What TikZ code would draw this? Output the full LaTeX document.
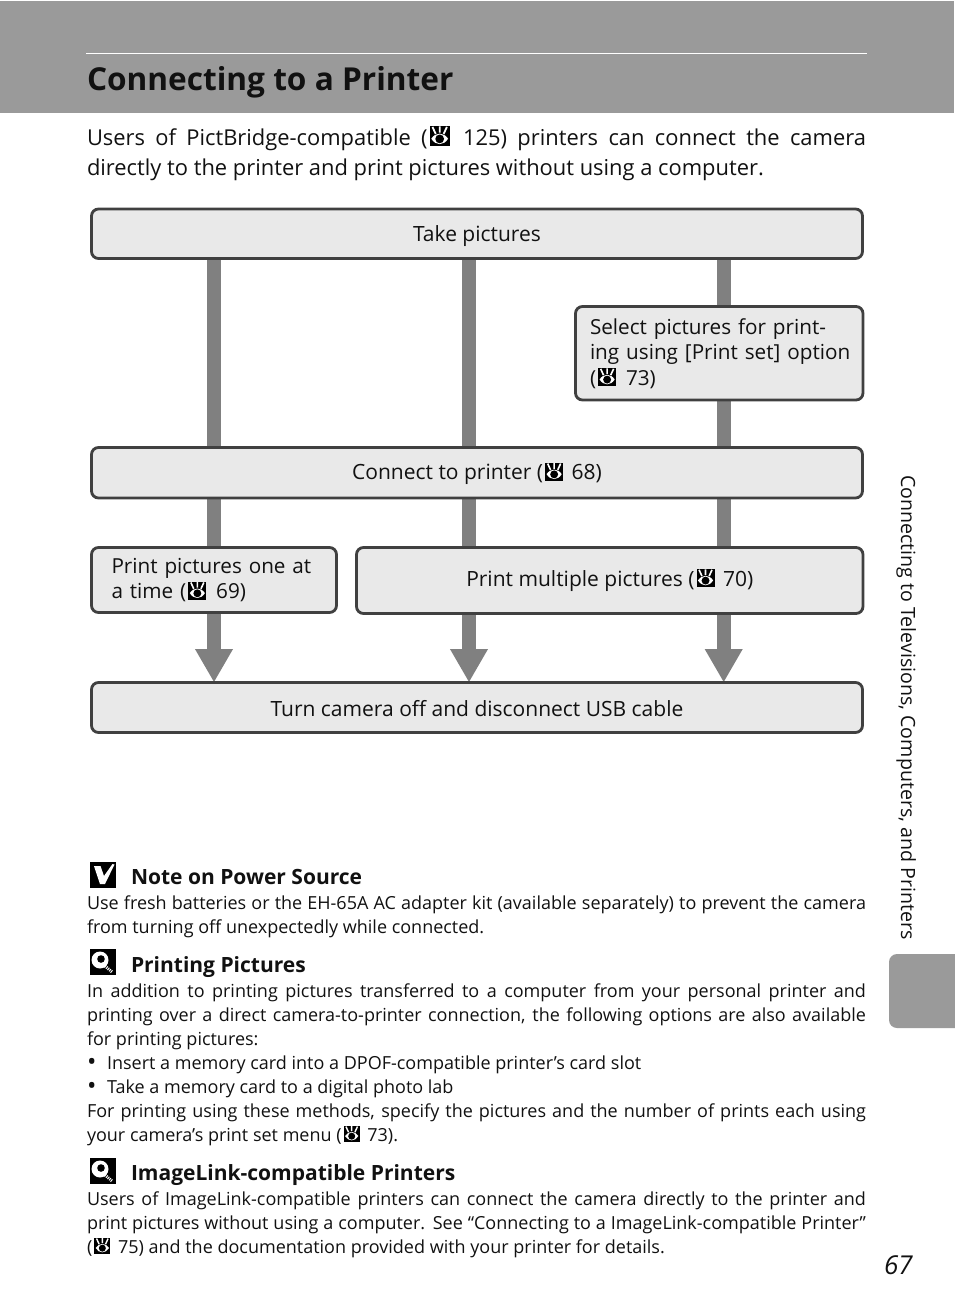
\documentclass[tikz,border=0pt]{standalone}
\usepackage{fontspec}
\usepackage{graphicx}
\setmainfont{Open Sans}
\usetikzlibrary{arrows.meta,backgrounds}
\definecolor{headgray}{HTML}{9A9A9A}
\definecolor{bargray}{HTML}{808080}
\definecolor{boxfill}{HTML}{E9E9E9}
\definecolor{boxline}{HTML}{404040}
\definecolor{txt}{HTML}{111111}
\newcommand{\eye}[1]{\kern2pt\raisebox{-0.06em}{\tikz[x=#1pt,y=#1pt,line cap=butt,baseline=0pt,sharp corners]{%
  \fill[black] (0,0) rectangle (1,1);
  \fill[white] (0.08,0.38) .. controls (0.3,0.72) and (0.7,0.72) .. (0.92,0.38) .. controls (0.7,0.02) and (0.3,0.02) .. (0.08,0.38) -- cycle;
  \fill[black] (0.5,0.37) circle [radius=0.22];
  \draw[white,line width=0.09*#1 pt] (0.14,0.97) -- (0.3,0.62) (0.5,1) -- (0.5,0.68) (0.86,0.97) -- (0.7,0.62);
}}\kern3pt\relax}
\newcommand{\tl}[5][]{\node[anchor=base west,inner sep=0pt,outer sep=0pt,text=txt,#1] (#2) at (#3,#4) {#5};}
\newcommand{\jl}[5][18]{\node[anchor=base west,inner sep=0pt,outer sep=0pt,text=txt] (#2) at (#3,#4) {\fontsize{#1}{#1}\selectfont\hbox to 779pt{\spaceskip=0.24em plus 1fil minus 0.08em\relax #5}};}
\newcommand{\body}{\fontsize{18}{24}\selectfont}
\newcommand{\head}{\fontsize{21}{24}\selectfont\bfseries}
\newcommand{\bul}{\fontsize{25}{24}\selectfont\raisebox{-0.06em}{•}}
\tikzset{
  flowbox/.style={draw=boxline,fill=boxfill,line width=2.8pt,rounded corners=7pt,inner sep=0pt,outer sep=0pt,font=\fontsize{21}{25}\selectfont,text=txt},
  single/.style={text height=#1,text depth=1.5pt},
  leftbox/.style={font=\fontsize{20.7}{25.5}\selectfont,align=left},
  bar/.style={draw=bargray,line width=13.6pt},
  arrowbar/.style={bar,-{Triangle[width=35.5pt,length=33.5pt]}}
}
\begin{document}
\begin{tikzpicture}[x=1pt,y=-1pt]
\useasboundingbox (0,0) rectangle (954,1314);
\fill[headgray] (0,1) rectangle (954,113);
\coordinate (ruleL) at (86,53.5);
\coordinate (ruleR) at (867,53.5);
\draw[white,line width=1pt] (ruleL) -- (ruleR);
\tl{title}{87}{90}{\fontsize{31.6}{36}\selectfont\bfseries Connecting to a Printer}
\jl[21.9]{introA}{87}{145}{Users of PictBridge-compatible (\eye{20} 125) printers can connect the camera}
\tl{introB}{87}{175}{\fontsize{21.9}{24}\selectfont directly to the printer and print pictures without using a computer.}
% flow boxes
\node[flowbox,single=16pt,minimum width=771pt,minimum height=49.5pt] (take) at (477,233.75) {Take pictures};
\node[flowbox,leftbox,minimum width=287.5pt,minimum height=93.5pt,text width=258.5pt] (select) at (719.25,353.25) {Select pictures for print-\\\mbox{ing using [Print set] option}\\(\eye{18} 73)};
\node[flowbox,single=15.5pt,minimum width=771pt,minimum height=50.5pt] (connect) at (477,472.75) {Connect to printer (\eye{18} 68)};
\node[flowbox,leftbox,minimum width=245pt,minimum height=65pt,text width=205pt] (one) at (214,580) {Print pictures one at\\a time (\eye{18} 69)};
\node[flowbox,single=12.5pt,minimum width=506.5pt,minimum height=66pt] (multi) at (609.75,580.5) {Print multiple pictures (\eye{18} 70)};
\node[flowbox,single=18.5pt,minimum width=771pt,minimum height=50pt] (finish) at (477,707.5) {Turn camera off and disconnect USB cable};
\coordinate (c1) at (214,0);
\coordinate (c2) at (469,0);
\coordinate (c3) at (723.7,0);
\begin{scope}[on background layer]
\draw[bar] (take.south -| c1) -- (connect.north -| c1);
\draw[bar] (take.south -| c2) -- (connect.north -| c2);
\draw[bar] (take.south -| c3) -- (select.north -| c3);
\draw[bar] (select.south -| c3) -- (connect.north -| c3);
\draw[bar] (connect.south -| c1) -- (one.north -| c1);
\draw[bar] (connect.south -| c2) -- (multi.north -| c2);
\draw[bar] (connect.south -| c3) -- (multi.north -| c3);
\draw[arrowbar] (one.south -| c1) -- (finish.north -| c1);
\draw[arrowbar] (multi.south -| c2) -- (finish.north -| c2);
\draw[arrowbar] (multi.south -| c3) -- (finish.north -| c3);
\end{scope}
% note icons
\fill[black] (90,862) rectangle (116,887.5);
\fill[white] (94,866) -- (100.5,866) -- (104,876) -- (112.5,864) -- (114.5,864.5) -- (105,884) -- (100,884) -- cycle;
\fill[black] (90,949) rectangle (116,975);
\fill[white] (100,960) circle [radius=8.5];
\fill[black] (101,959) circle [radius=3.8];
\draw[white,line width=3pt,dash pattern=on 1pt off 1pt] (105,966) -- (112,972);
\fill[black] (90,1158) rectangle (116,1184);
\fill[white] (100,1169) circle [radius=8.5];
\fill[black] (101,1168) circle [radius=3.8];
\draw[white,line width=3pt,dash pattern=on 1pt off 1pt] (105,1175) -- (112,1181);
% notes
\tl{hA}{131}{884}{\head Note on Power Source}
\jl{a1}{87}{909}{Use fresh batteries or the EH-65A AC adapter kit (available separately) to prevent the camera}
\tl{a2}{87}{933}{\body from turning off unexpectedly while connected.}
\tl{hB}{131}{972}{\head Printing Pictures}
\jl{b1}{87}{997}{In addition to printing pictures transferred to a computer from your personal printer and}
\jl{b2}{87}{1021}{printing over a direct camera-to-printer connection, the following options are also available}
\tl{b3}{87}{1045}{\body for printing pictures:}
\tl{b4}{87}{1069}{\bul}
\tl{b5}{107}{1069}{\body Insert a memory card into a DPOF-compatible printer’s card slot}
\tl{b6}{87}{1093}{\bul}
\tl{b7}{107}{1093}{\body Take a memory card to a digital photo lab}
\jl{b8}{87}{1117}{For printing using these methods, specify the pictures and the number of prints each using}
\tl{b9}{87}{1141}{\body your camera’s print set menu (\eye{16} 73).}
\tl{hC}{131}{1180}{\head ImageLink-compatible Printers}
\jl{c1l}{87}{1205}{Users of ImageLink-compatible printers can connect the camera directly to the printer and}
\jl{c2l}{87}{1229}{print pictures without using a computer. See “Connecting to a ImageLink-compatible Printer”}
\tl{c3l}{87}{1253}{\body (\eye{16} 75) and the documentation provided with your printer for details.}
% side tab
\fill[headgray,rounded corners=8pt] (975,954) -- (889,954) -- (889,1028) -- (975,1028) -- cycle;
\node[rotate=-90,anchor=base west,inner sep=0pt,text=txt] (side) at (901,475) {\fontsize{19.6}{22}\selectfont Connecting to Televisions, Computers, and Printers};
\tl{page}{884}{1274}{\fontsize{26}{30}\selectfont\itshape 67}
\end{tikzpicture}
\end{document}
